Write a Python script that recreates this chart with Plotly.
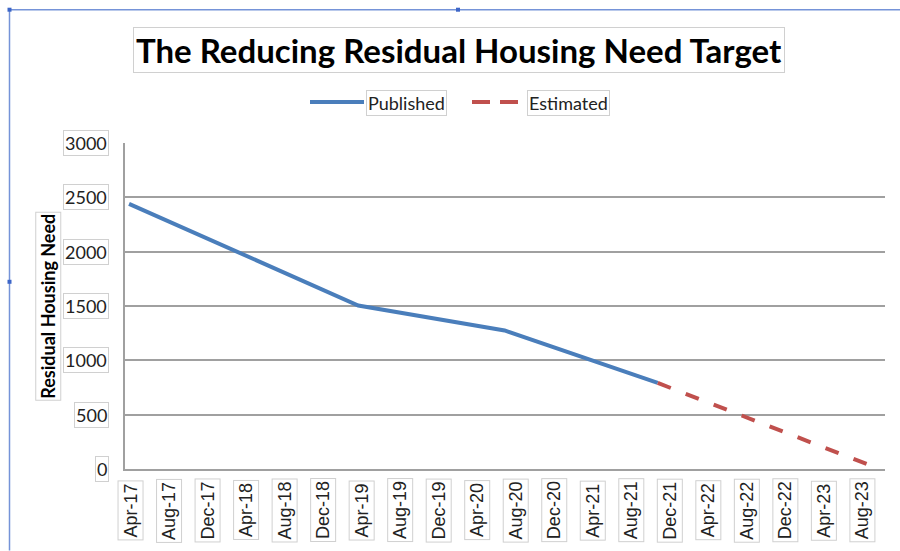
import plotly.graph_objects as go

# ---- data ----
tick_labels = ["Apr-17", "Aug-17", "Dec-17", "Apr-18", "Aug-18", "Dec-18", "Apr-19",
               "Aug-19", "Dec-19", "Apr-20", "Aug-20", "Dec-20", "Apr-21", "Aug-21",
               "Dec-21", "Apr-22", "Aug-22", "Dec-22", "Apr-23", "Aug-23"]
tick_months = [4 * i for i in range(len(tick_labels))]  # months since Apr-17

published_months = [-0.2, 23.6, 38.8, 54.7]
published_values = [2440, 1505, 1275, 792]

estimated_months = [54.7, 76.8]
estimated_values = [792, 32]

y_ticks = [0, 500, 1000, 1500, 2000, 2500, 3000]

# ---- layout geometry (pixels) ----
WIDTH, HEIGHT = 900, 551
L, R, T, B = 125, 885, 143, 469.5
PW, PH = R - L, B - T


def px(x):
    return (x - L) / PW


def py(y):
    return (B - y) / PH


BLUE = "#4a7ebb"
RED = "#c0504d"
GRID = "#a0a0a0"
BOX = "#d0d0d0"
FRAME = "#7593d8"

fig = go.Figure()
fig.add_trace(go.Scatter(x=published_months, y=published_values, mode="lines",
                         name="Published", line=dict(color=BLUE, width=4),
                         showlegend=False))
fig.add_trace(go.Scatter(x=estimated_months, y=estimated_values, mode="lines",
                         name="Estimated", line=dict(color=RED, width=4, dash="14px,16px"),
                         showlegend=False))

annotations = []
# title
annotations.append(dict(text="<b>The Reducing Residual Housing Need Target</b>",
                        x=px(458.5), y=py(50), xref="paper", yref="paper",
                        xanchor="center", yanchor="middle", showarrow=False,
                        font=dict(family="Lato", size=33, color="black"),
                        bordercolor=BOX, borderwidth=1, borderpad=2, bgcolor="white"))
# legend texts
annotations.append(dict(text="Published", x=px(366), y=py(103), xref="paper", yref="paper",
                        xanchor="left", yanchor="middle", showarrow=False,
                        font=dict(family="Lato", size=18, color="#222"),
                        bordercolor=BOX, borderwidth=1, borderpad=1, bgcolor="white"))
annotations.append(dict(text="Estimated", x=px(527), y=py(103), xref="paper", yref="paper",
                        xanchor="left", yanchor="middle", showarrow=False,
                        font=dict(family="Lato", size=18, color="#222"),
                        bordercolor=BOX, borderwidth=1, borderpad=1, bgcolor="white"))
# y axis title
annotations.append(dict(text="<b>Residual Housing Need</b>", x=px(48), y=py(307),
                        xref="paper", yref="paper", textangle=-90,
                        xanchor="center", yanchor="middle", showarrow=False,
                        font=dict(family="Lato", size=18, color="black"),
                        bordercolor=BOX, borderwidth=1, borderpad=1, bgcolor="white"))
# y tick labels
for v in y_ticks:
    annotations.append(dict(text=str(v), x=px(109), y=v, xref="paper", yref="y",
                            xanchor="right", yanchor="middle", showarrow=False,
                            font=dict(family="Lato", size=18, color="#222"),
                            bordercolor=BOX, borderwidth=1, borderpad=1, bgcolor="white"))
# x tick labels
for m, lab in zip(tick_months, tick_labels):
    annotations.append(dict(text=lab, x=m, y=py(511), xref="x", yref="paper",
                            textangle=-90, xanchor="center", yanchor="middle",
                            showarrow=False,
                            font=dict(family="Liberation Sans", size=18, color="#222"),
                            bordercolor=BOX, borderwidth=1, borderpad=2, bgcolor="white"))

shapes = []
# legend samples
shapes.append(dict(type="line", xref="paper", yref="paper", x0=px(310), x1=px(364),
                   y0=py(102), y1=py(102), line=dict(color=BLUE, width=4)))
shapes.append(dict(type="line", xref="paper", yref="paper", x0=px(472), x1=px(522),
                   y0=py(102), y1=py(102), line=dict(color=RED, width=4, dash="18px,10px")))
# selection frame of the chart object
shapes.append(dict(type="line", xref="paper", yref="paper", x0=px(9.5), x1=px(9.5),
                   y0=py(10), y1=py(551), line=dict(color=FRAME, width=1.5)))
shapes.append(dict(type="line", xref="paper", yref="paper", x0=px(9.5), x1=px(900),
                   y0=py(9.5), y1=py(9.5), line=dict(color=FRAME, width=1.5)))
for hx, hy in [(9.5, 9.5), (458, 9.5), (9.5, 282)]:
    shapes.append(dict(type="rect", xref="paper", yref="paper",
                       x0=px(hx - 2), x1=px(hx + 2), y0=py(hy - 2), y1=py(hy + 2),
                       line=dict(width=0), fillcolor="#3d66c8"))

fig.update_layout(
    width=WIDTH, height=HEIGHT,
    margin=dict(l=L, r=WIDTH - R, t=T, b=HEIGHT - B),
    paper_bgcolor="white", plot_bgcolor="white",
    showlegend=False,
    xaxis=dict(range=[-0.62, 78.3], showgrid=False, zeroline=False,
               showticklabels=False, ticks="", showline=True, linecolor=GRID, linewidth=1.5),
    yaxis=dict(range=[0, 3000], tickvals=y_ticks, showgrid=True, gridcolor=GRID,
               gridwidth=1.5, zeroline=False, showticklabels=False, ticks="",
               showline=True, linecolor=GRID, linewidth=2),
    annotations=annotations,
    shapes=shapes,
)

fig.write_html("out.html", config={"displayModeBar": False},
               post_script="document.body.style.margin='0';document.body.style.overflow='hidden';")
